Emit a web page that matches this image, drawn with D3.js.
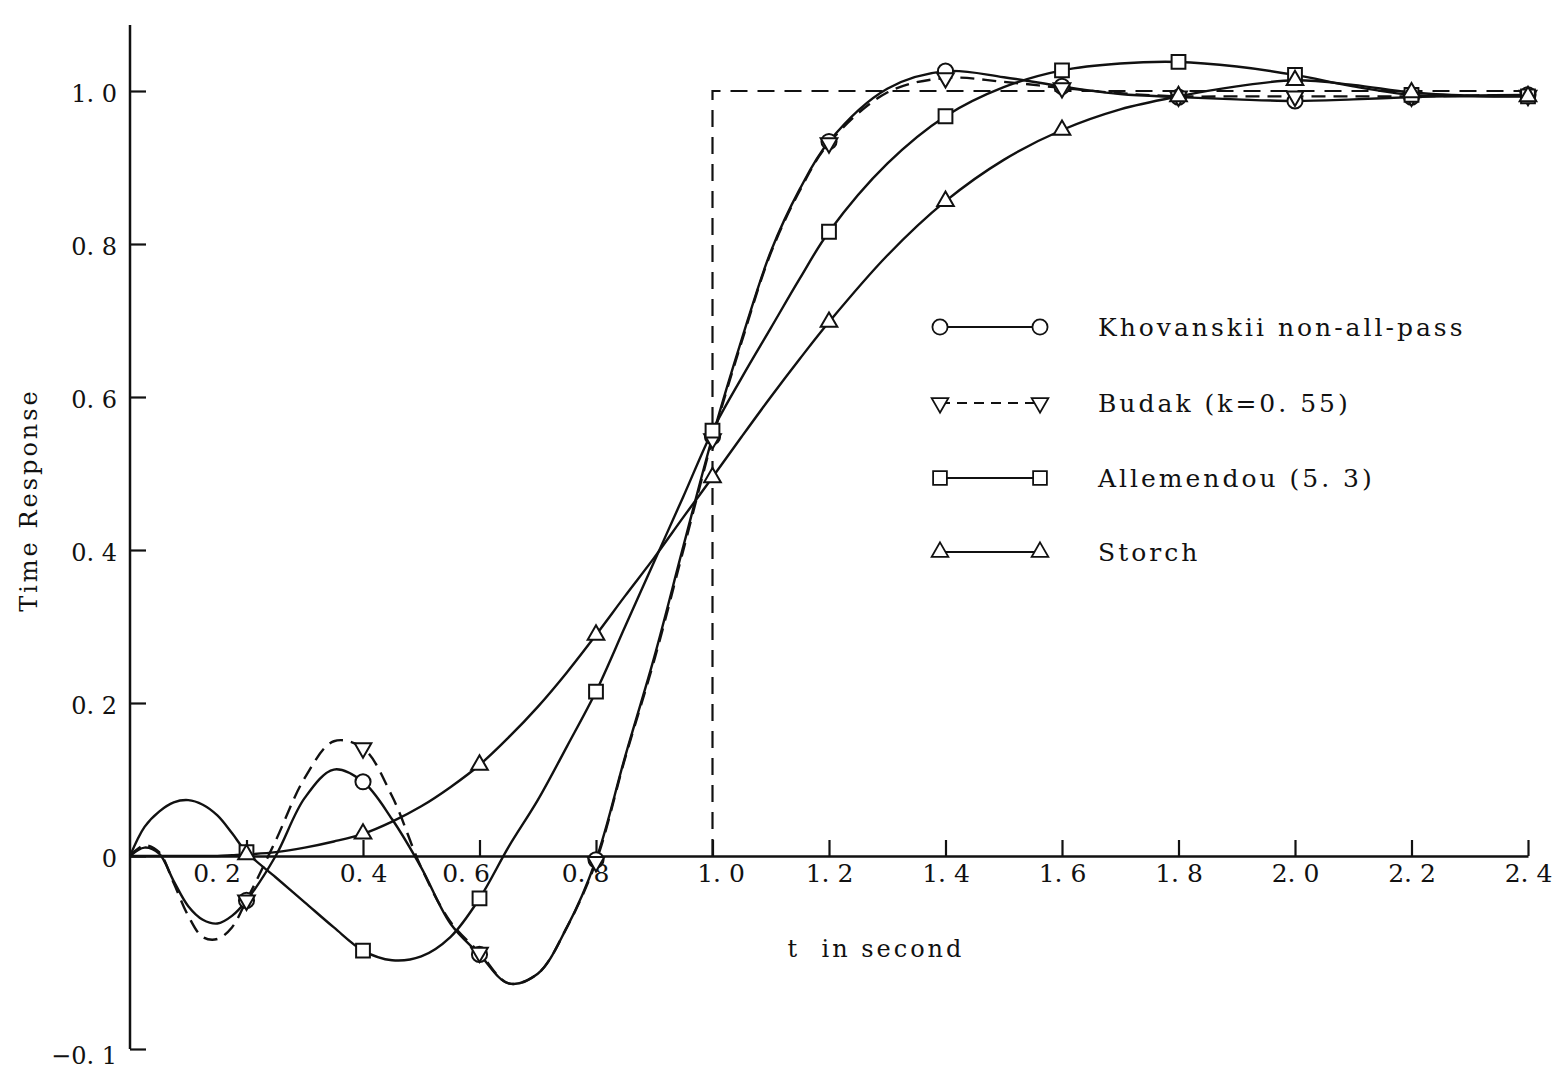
<!DOCTYPE html>
<html>
<head>
<meta charset="utf-8">
<script src="https://cdn.jsdelivr.net/npm/d3@7"></script>
<style>
  body { margin: 0; background: #fff; }
  text { font-family: "DejaVu Serif", serif; fill: #111; }
</style>
</head>
<body>
<div id="chart"></div>
<script>
// time grid (s) shared by the four responses
var tGrid = [0, 0.025, 0.05, 0.075, 0.1, 0.125, 0.15, 0.175, 0.2,
  0.25, 0.3, 0.35, 0.4, 0.45, 0.5, 0.55, 0.6, 0.65, 0.7, 0.75, 0.8,
  0.85, 0.9, 0.95, 1.0, 1.05, 1.1, 1.15, 1.2,
  1.3, 1.4, 1.5, 1.6, 1.7, 1.8, 1.9, 2.0, 2.1, 2.2, 2.3, 2.4];

var khovanskii = [0, 0.011, 0.003, -0.013, -0.026, -0.033, -0.035, -0.031, -0.023,
  0.0, 0.076, 0.113, 0.097, 0.048, -0.006, -0.035, -0.051, -0.066, -0.061, -0.037, -0.002,
  0.13, 0.26, 0.405, 0.548, 0.675, 0.79, 0.872, 0.934,
  1.003, 1.026, 1.018, 1.006, 0.996, 0.992, 0.989, 0.987, 0.989, 0.992, 0.994, 0.995];

var budak = [0, 0.014, 0.005, -0.014, -0.031, -0.042, -0.043, -0.037, -0.023,
  0.02, 0.102, 0.15, 0.141, 0.078, -0.006, -0.034, -0.05, -0.066, -0.061, -0.037, -0.003,
  0.128, 0.256, 0.40, 0.545, 0.672, 0.788, 0.87, 0.932,
  0.998, 1.017, 1.012, 1.004, 0.997, 0.993, 0.993, 0.993, 0.993, 0.993, 0.994, 0.994];

var allemendou = [0, 0.038, 0.058, 0.07, 0.073, 0.067, 0.053, 0.03, 0.005,
  -0.011, -0.024, -0.037, -0.049, -0.054, -0.052, -0.042, -0.022, 0.012, 0.073, 0.143, 0.215,
  0.30, 0.385, 0.47, 0.556, 0.625, 0.69, 0.755, 0.816,
  0.905, 0.967, 1.005, 1.027, 1.036, 1.038, 1.032, 1.021, 1.006, 0.995, 0.993, 0.993];

var storch = [0, 0, 0, 0, 0, 0, 0, 0.001, 0.002,
  0.005, 0.011, 0.019, 0.029, 0.045, 0.065, 0.09, 0.119, 0.155, 0.195, 0.24, 0.289,
  0.34, 0.39, 0.443, 0.495, 0.548, 0.6, 0.65, 0.698,
  0.785, 0.856, 0.91, 0.949, 0.976, 0.993, 1.006, 1.014, 1.008, 0.998, 0.994, 0.993];

// ideal unit step (dashed)
var stepT = [1.0, 1.0, 2.4];
var stepV = [0, 1.0, 1.0];

var xTicks = [0.2, 0.4, 0.6, 0.8, 1.0, 1.2, 1.4, 1.6, 1.8, 2.0, 2.2, 2.4];
var yTicks = [-0.1, 0, 0.2, 0.4, 0.6, 0.8, 1.0];

var seriesNames = ["Khovanskii non-all-pass", "Budak (k=0. 55)", "Allemendou (5. 3)", "Storch"];
var seriesValues = [khovanskii, budak, allemendou, storch];
var seriesSymbols = ["circle", "down", "square", "up"];
var seriesDash = [null, "14,8", null, null];

var width = 1567, height = 1071;

var svg = d3.select("#chart").append("svg")
  .attr("width", width)
  .attr("height", height);

svg.append("rect").attr("width", width).attr("height", height).attr("fill", "#fff");

var x = d3.scaleLinear().domain([0, 2.4]).range([130, 1528]);
// the negative part of the ordinate is drawn on a stretched scale
var y = d3.scaleLinear().domain([-0.1, 0, 1.0]).range([1049, 856, 91]);

function fmt(d) {
  if (d === 0) return "0";
  return d3.format(".1f")(d).replace(".", ". ");
}

// y axis
svg.append("line")
  .attr("x1", x(0)).attr("x2", x(0))
  .attr("y1", 25).attr("y2", y(-0.1))
  .attr("stroke", "#111").attr("stroke-width", 2.5);

var yAxisG = svg.append("g")
  .attr("transform", "translate(" + x(0) + ",0)")
  .call(d3.axisLeft(y).tickValues(yTicks).tickSizeInner(-16).tickSizeOuter(0)
    .tickPadding(13).tickFormat(fmt));
yAxisG.select(".domain").remove();
yAxisG.selectAll(".tick line").attr("stroke", "#111").attr("stroke-width", 2.2);
yAxisG.selectAll(".tick text")
  .attr("font-size", 24)
  .attr("font-family", "DejaVu Serif")
  .attr("fill", "#111")
  .attr("dy", function (d) { return d === -0.1 ? "0.62em" : "0.45em"; });

// x axis
var xLabelNudge = new Map([[0.2, -30], [0.6, -14], [0.8, -11], [1.0, 8]]);
var xAxisG = svg.append("g")
  .attr("transform", "translate(0," + y(0) + ")")
  .call(d3.axisBottom(x).tickValues(xTicks).tickSizeInner(-16).tickSizeOuter(0)
    .tickPadding(8).tickFormat(fmt));
xAxisG.select(".domain").attr("stroke", "#111").attr("stroke-width", 2.5);
xAxisG.selectAll(".tick line").attr("stroke", "#111").attr("stroke-width", 2.2);
xAxisG.selectAll(".tick text")
  .attr("font-size", 25)
  .attr("font-family", "DejaVu Serif")
  .attr("fill", "#111")
  .attr("x", function (d) { return xLabelNudge.get(d) || 0; });

// axis titles
svg.append("text")
  .attr("x", 876).attr("y", 957)
  .attr("text-anchor", "middle")
  .attr("font-size", 24)
  .style("white-space", "pre")
  .attr("letter-spacing", 3)
  .text("t  in second");

svg.append("text")
  .attr("transform", "translate(37,500) rotate(-90)")
  .attr("text-anchor", "middle")
  .attr("font-size", 24)
  .attr("letter-spacing", 3)
  .text("Time Response");

// ideal step
var stepLine = d3.line()
  .x(function (d) { return x(d[0]); })
  .y(function (d) { return y(d[1]); });

svg.append("path")
  .datum(stepT.map(function (t, i) { return [t, stepV[i]]; }))
  .attr("d", stepLine)
  .attr("fill", "none")
  .attr("stroke", "#111")
  .attr("stroke-width", 2.2)
  .attr("stroke-dasharray", "17,10");

// responses
var curve = d3.line()
  .x(function (d) { return x(d[0]); })
  .y(function (d) { return y(d[1]); })
  .curve(d3.curveCatmullRom.alpha(0.5));

function symbolPath(kind) {
  if (kind === "circle") return d3.symbol(d3.symbolCircle, 180)();
  if (kind === "square") return d3.symbol(d3.symbolSquare, 190)();
  return d3.symbol(d3.symbolTriangle, 120)();
}

function symbolTransform(kind, px, py) {
  var s = "translate(" + px + "," + py + ")";
  if (kind === "down") s += " rotate(180)";
  return s;
}

seriesValues.forEach(function (vals, k) {
  var pts = tGrid.map(function (t, i) { return [t, vals[i]]; });
  svg.append("path")
    .datum(pts)
    .attr("d", curve)
    .attr("fill", "none")
    .attr("stroke", "#111")
    .attr("stroke-width", 2.4)
    .attr("stroke-dasharray", seriesDash[k]);
});

seriesValues.forEach(function (vals, k) {
  var marks = tGrid.map(function (t, i) { return [t, vals[i]]; })
    .filter(function (d) { return d[0] > 0 && Math.abs(d[0] * 5 - Math.round(d[0] * 5)) < 1e-6; });
  svg.selectAll(".mk" + k)
    .data(marks)
    .enter().append("path")
    .attr("class", "mk" + k)
    .attr("d", symbolPath(seriesSymbols[k]))
    .attr("transform", function (d) { return symbolTransform(seriesSymbols[k], x(d[0]), y(d[1])); })
    .attr("fill", "#fff")
    .attr("stroke", "#111")
    .attr("stroke-width", 2);
});

// legend
var legendY = [327, 403, 478, 552];
var legend = svg.append("g");
seriesNames.forEach(function (name, k) {
  var ly = legendY[k];
  legend.append("line")
    .attr("x1", 940).attr("x2", 1040)
    .attr("y1", ly).attr("y2", ly)
    .attr("stroke", "#111")
    .attr("stroke-width", 2)
    .attr("stroke-dasharray", k === 1 ? "10,7" : null);
  [940, 1040].forEach(function (lx) {
    legend.append("path")
      .attr("d", symbolPath(seriesSymbols[k]))
      .attr("transform", symbolTransform(seriesSymbols[k], lx, ly))
      .attr("fill", "#fff")
      .attr("stroke", "#111")
      .attr("stroke-width", 1.8);
  });
  legend.append("text")
    .attr("x", 1098).attr("y", ly)
    .attr("dy", "0.35em")
    .attr("font-size", 25)
    .attr("letter-spacing", 3)
    .text(name);
});
</script>
</body>
</html>
